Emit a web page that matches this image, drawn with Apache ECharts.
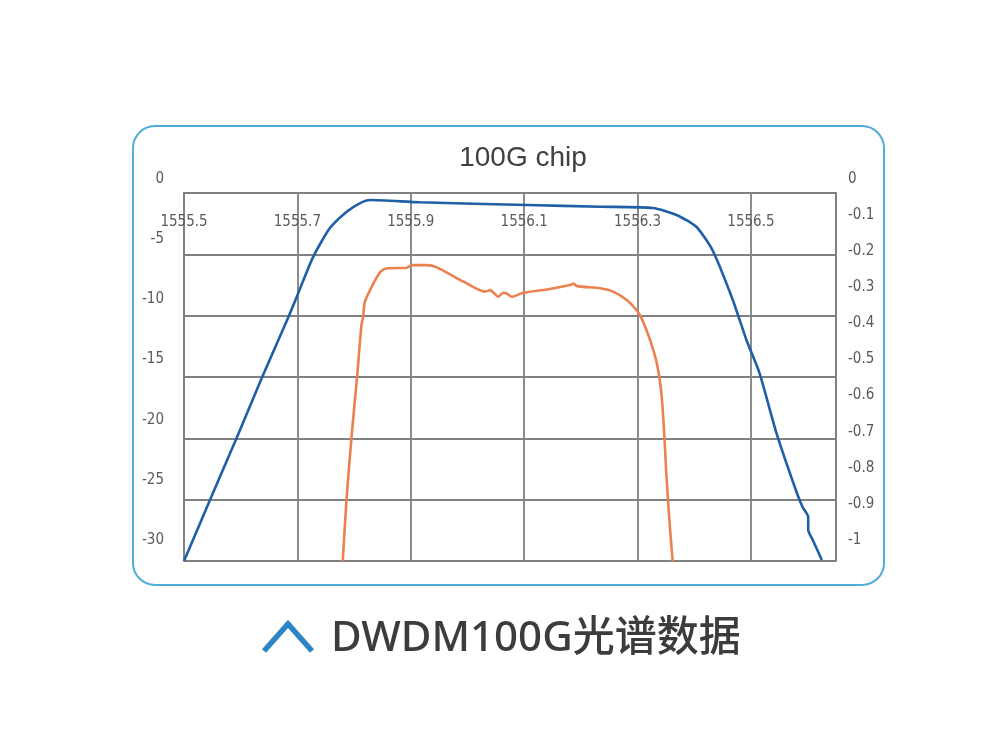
<!DOCTYPE html>
<html>
<head>
<meta charset="utf-8">
<script src="https://cdn.jsdelivr.net/npm/echarts@6/dist/echarts.min.js"></script>
<style>
html,body{margin:0;padding:0;background:#fff;}
#chart{width:1000px;height:750px;}
</style>
</head>
<body>
<div id="chart"></div>
<script>
// ---- data ----
const chartTitle = '100G chip';
const captionText = 'DWDM100G光谱数据';

const xMin = 1555.5, xMax = 1556.65, xStep = 0.2;
const leftTicks = { min: -30, max: 0, step: 5 };
const rightTicks = { min: -1, max: 0, step: 0.1 };

// blue curve: transmission (left axis, dB)
const blueWavelength = [1555.500, 1555.549, 1555.596, 1555.637, 1555.684, 1555.699, 1555.728, 1555.757, 1555.787, 1555.810, 1555.828, 1555.916, 1556.105, 1556.234, 1556.327, 1556.369, 1556.404, 1556.432, 1556.468, 1556.492, 1556.515, 1556.545, 1556.581, 1556.591, 1556.601, 1556.601, 1556.609, 1556.625];
const blueLoss       = [-30.0, -24.68, -19.62, -15.11, -10.13, -8.45, -5.19, -2.88, -1.52, -0.84, -0.57, -0.76, -0.98, -1.12, -1.22, -1.79, -2.77, -4.65, -8.72, -11.98, -14.67, -19.57, -24.46, -25.6, -26.41, -27.47, -28.29, -29.92];

// orange curve: passband ripple (right axis, dB)
const orangeWavelength = [1555.780, 1555.787, 1555.796, 1555.805, 1555.813, 1555.816, 1555.819, 1555.831, 1555.846, 1555.857, 1555.893, 1555.902, 1555.928, 1555.946, 1555.993, 1556.031, 1556.040, 1556.046, 1556.054, 1556.063, 1556.069, 1556.078, 1556.098, 1556.140, 1556.181, 1556.187, 1556.193, 1556.234, 1556.257, 1556.281, 1556.298, 1556.307, 1556.322, 1556.334, 1556.342, 1556.347, 1556.351, 1556.357, 1556.362];
const orangeLoss       = [-1.0, -0.825, -0.654, -0.504, -0.359, -0.336, -0.296, -0.255, -0.215, -0.205, -0.203, -0.196, -0.196, -0.202, -0.241, -0.268, -0.264, -0.271, -0.282, -0.271, -0.273, -0.282, -0.271, -0.262, -0.250, -0.246, -0.253, -0.259, -0.268, -0.291, -0.318, -0.340, -0.399, -0.463, -0.544, -0.653, -0.771, -0.907, -1.002];

// ---- styles ----
const FONT = "'Liberation Sans Narrow', 'DejaVu Sans Condensed', 'Liberation Sans', sans-serif";
const gridColor = '#808080';
const labelColor = '#5a5a5a';

const zip = (a, b) => a.map((v, i) => [v, b[i]]);

const chart = echarts.init(document.getElementById('chart'), null, { renderer: 'canvas' });

const option = {
  backgroundColor: '#ffffff',
  animation: false,
  title: [
    {
      text: chartTitle,
      left: 518, top: 139, textAlign: 'center',
      textStyle: { fontFamily: "'Liberation Sans', sans-serif", fontSize: 28, fontWeight: 'normal', color: '#404040' }
    },
    {
      text: captionText,
      left: 326, top: 613,
      textStyle: { fontFamily: "'Noto Sans', 'Noto Sans CJK SC', sans-serif", fontSize: 42, fontWeight: 500, color: '#3c3c3c' }
    }
  ],
  graphic: [
    {
      type: 'rect', z: -1, silent: true,
      shape: { x: 133, y: 126, width: 751, height: 459, r: 22 },
      style: { fill: 'none', stroke: '#52acd8', lineWidth: 2 }
    },
    {
      type: 'polyline', silent: true,
      shape: { points: [[264, 651], [288, 624], [312, 651]] },
      style: { fill: 'none', stroke: '#2c86c4', lineWidth: 5.5 }
    }
  ],
  grid: [
    { left: 184, top: 193, width: 652, height: 368, containLabel: false },
    { left: 184, top: 179, width: 652, height: 361, containLabel: false }
  ],
  xAxis: [
    {
      type: 'value', gridIndex: 0, position: 'top',
      min: xMin, max: xMax, interval: xStep,
      axisLine: { show: true, lineStyle: { color: gridColor, width: 1.8 } },
      axisTick: { show: false },
      axisLabel: {
        inside: true, margin: 22, showMaxLabel: false,
        fontFamily: FONT, fontSize: 15, color: labelColor,
        formatter: v => v.toFixed(1)
      },
      splitLine: { show: true, lineStyle: { color: gridColor, width: 1.8 } }
    },
    {
      type: 'value', gridIndex: 1, show: false,
      min: xMin, max: xMax
    }
  ],
  yAxis: [
    {
      type: 'value', gridIndex: 0, position: 'left',
      min: leftTicks.min, max: leftTicks.max, interval: leftTicks.step,
      axisLine: { show: true, lineStyle: { color: gridColor, width: 1.8 } },
      axisTick: { show: false },
      axisLabel: { show: false },
      splitLine: { show: true, lineStyle: { color: gridColor, width: 1.8 } }
    },
    {
      type: 'value', gridIndex: 0, position: 'right',
      min: rightTicks.min, max: rightTicks.max, interval: rightTicks.step,
      axisLine: { show: true, lineStyle: { color: gridColor, width: 1.8 } },
      axisTick: { show: false },
      axisLabel: { show: false },
      splitLine: { show: false }
    },
    {
      type: 'value', gridIndex: 1, position: 'left',
      min: leftTicks.min, max: leftTicks.max, interval: leftTicks.step,
      axisLine: { show: false }, axisTick: { show: false }, splitLine: { show: false },
      axisLabel: { margin: 20, fontFamily: FONT, fontSize: 15, color: labelColor }
    },
    {
      type: 'value', gridIndex: 1, position: 'right',
      min: rightTicks.min, max: rightTicks.max, interval: rightTicks.step,
      axisLine: { show: false }, axisTick: { show: false }, splitLine: { show: false },
      axisLabel: {
        margin: 12, fontFamily: FONT, fontSize: 15, color: labelColor,
        formatter: v => (Math.abs(v) < 1e-9 ? '0' : String(Math.round(v * 10) / 10))
      }
    }
  ],
  series: [
    {
      name: 'transmission', type: 'line', xAxisIndex: 0, yAxisIndex: 0,
      data: zip(blueWavelength, blueLoss),
      smooth: 0.2, showSymbol: false,
      lineStyle: { color: '#1e5fa6', width: 2.6 },
      z: 3
    },
    {
      name: 'ripple', type: 'line', xAxisIndex: 0, yAxisIndex: 1,
      data: zip(orangeWavelength, orangeLoss),
      smooth: 0.25, showSymbol: false,
      lineStyle: { color: '#ec8150', width: 2.6 },
      z: 3
    }
  ]
};

chart.setOption(option);
</script>
</body>
</html>
